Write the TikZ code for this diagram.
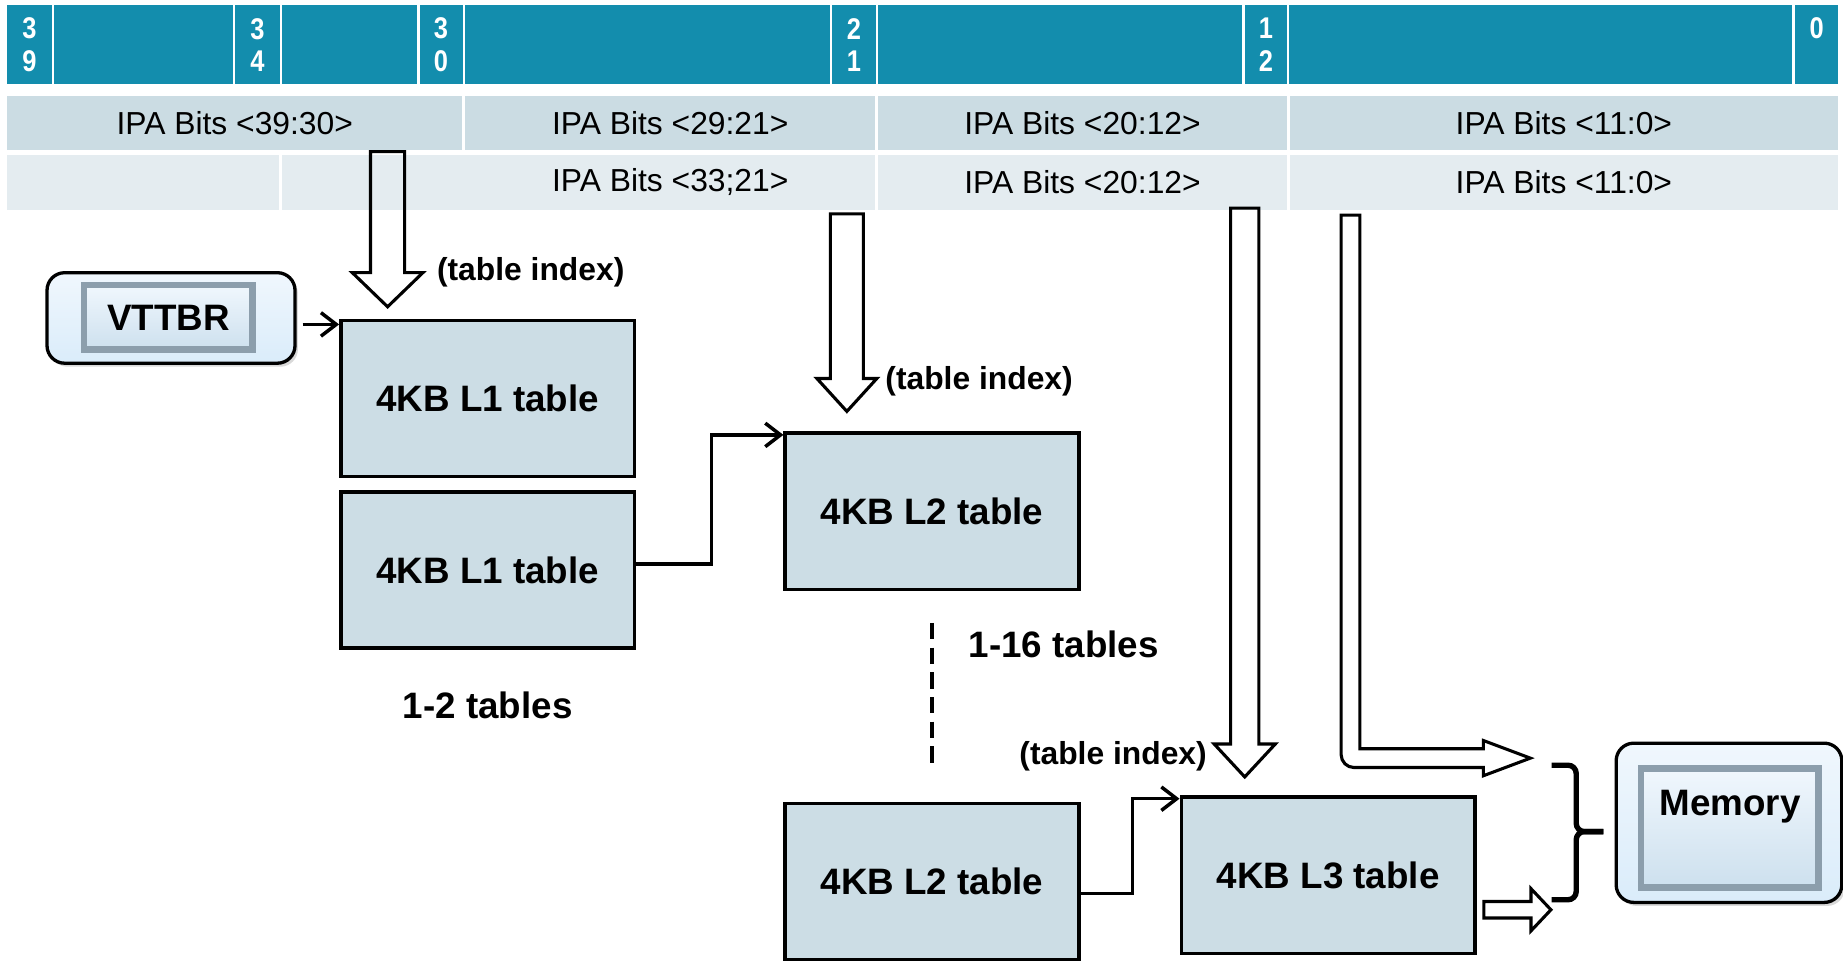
\documentclass[tikz,border=0pt]{standalone}
\usepackage{fontspec}
\setmainfont{Liberation Sans}
\newfontfamily\bitfont[FakeStretch=0.85]{Liberation Sans}
\usetikzlibrary{positioning, arrows.meta, shadows}

\definecolor{bitteal}{RGB}{19,141,173}
\definecolor{rowdark}{RGB}{203,220,227}
\definecolor{rowlight}{RGB}{228,236,240}
\definecolor{tblfill}{RGB}{204,221,229}
\definecolor{regfill}{RGB}{218,236,250}
\definecolor{regtop}{RGB}{240,247,253}
\definecolor{reginner}{RGB}{205,224,238}
\definecolor{bevel}{RGB}{140,158,172}

\begin{document}
\begin{tikzpicture}[
    % GLOBAL CFG
    >={Straight Barb[length=0.26cm, width=0.40cm]},
    % Styles
    bitcell/.style={
        rectangle,
        fill=bitteal,
        draw=white,
        line width=0.04cm,
        minimum height=1.38cm,
        inner sep=0pt,
        text=white,
        align=center,
        font=\bitfont\bfseries\fontsize{14.5}{15.6}\selectfont
    },
    rowtext/.style={
        font=\fontsize{15.4}{18}\selectfont
    },
    rowcell/.style={
        rowtext,
        rectangle,
        draw=white,
        line width=0.05cm,
        minimum height=0.98cm,
        inner sep=0pt
    },
    tbl/.style={
        rectangle,
        draw,
        fill=tblfill,
        line width=1.7pt,
        minimum width=5cm,
        minimum height=2.66cm,
        font=\fontsize{17.8}{20}\selectfont\bfseries
    },
    reg/.style={
        rectangle,
        rounded corners=0.3cm,
        draw,
        line width=1.6pt,
        top color=regtop,
        bottom color=regfill,
        drop shadow={shadow xshift=0.05cm, shadow yshift=-0.06cm, opacity=0.3}
    },
    regin/.style={
        rectangle,
        draw=bevel,
        line width=0.11cm,
        top color=regtop,
        bottom color=reginner,
        font=\fontsize{17.8}{20}\selectfont\bfseries
    },
    regtext/.style={
        font=\fontsize{17.8}{20}\selectfont\bfseries
    },
    idxlabel/.style={
        font=\fontsize{15.4}{18}\selectfont\bfseries
    },
    countlabel/.style={
        font=\fontsize{17.8}{20}\selectfont\bfseries
    },
    link/.style={
        ->,
        line width=1.7pt
    },
    blockarrow/.style={
        line width=1.5pt,
        line join=miter
    },
    bracket/.style={
        line width=2.6pt,
        rounded corners=0.14cm
    },
    dashline/.style={
        line width=0.08cm,
        dash pattern=on 0.28cm off 0.14cm
    },
]

\useasboundingbox (0,0) rectangle (31.36,-16.36);

% Bit ruler on top, numbered cells named b#
    \node [bitcell, minimum width=0.80cm] (b39) at (0.50,-0.76) {3\\9};
    \node [bitcell, minimum width=3.08cm] (g1) at (2.44,-0.76) {};
    \node [bitcell, minimum width=0.80cm] (b34) at (4.38,-0.76) {3\\4};
    \node [bitcell, minimum width=2.34cm] (g2) at (5.95,-0.76) {};
    \node [bitcell, minimum width=0.77cm] (b30) at (7.505,-0.76) {3\\0};
    \node [bitcell, minimum width=6.25cm] (g3) at (11.015,-0.76) {};
    \node [bitcell, minimum width=0.78cm] (b21) at (14.53,-0.76) {2\\1};
    \node [bitcell, minimum width=6.24cm] (g4) at (18.04,-0.76) {};
    \node [bitcell, minimum width=0.76cm] (b12) at (21.54,-0.76) {1\\2};
    \node [bitcell, minimum width=8.60cm] (g5) at (26.22,-0.76) {};
    \node [bitcell, minimum width=0.78cm] (b0) at (30.91,-0.76) {0\\\phantom{0}};

    % IPA rows named r1# and r2#
    \node [rowcell, fill=rowdark, minimum width=7.79cm] (r1a) at (3.995,-2.09) {IPA Bits <39:30>};
    \node [rowcell, fill=rowdark, minimum width=7.03cm] (r1b) at (11.405,-2.09) {IPA Bits <29:21>};
    \node [rowcell, fill=rowdark, minimum width=7.00cm] (r1c) at (18.42,-2.09) {IPA Bits <20:12>};
    \node [rowcell, fill=rowdark, minimum width=9.38cm] (r1d) at (26.61,-2.09) {IPA Bits <11:0>};

    \node [rowcell, fill=rowlight, minimum width=4.68cm] (r2a) at (2.44,-3.10) {};
    \node [rowcell, fill=rowlight, minimum width=10.14cm] (r2b) at (9.85,-3.10) {};
    \node [rowcell, fill=rowlight, minimum width=7.00cm] (r2c) at (18.42,-3.10) {IPA Bits <20:12>};
    \node [rowcell, fill=rowlight, minimum width=9.38cm] (r2d) at (26.61,-3.10) {IPA Bits <11:0>};
    \node [rowtext] (r2btxt) at (r1b |- r2b) {IPA Bits <33;21>};

% Registers and tables
    \node [reg, minimum width=4.22cm, minimum height=1.54cm] (vttbr) at (2.91,-5.41) {};
    \node [regin, minimum width=2.87cm, minimum height=1.10cm] (vttbrin) at (2.865,-5.40) {VTTBR};

    \node [tbl] (l1a) at (8.30,-6.78) {4KB L1 table};
    \node [tbl] (l1b) at (8.30,-9.70) {4KB L1 table};
    \node [tbl] (l2a) at (15.86,-8.70) {4KB L2 table};
    \node [tbl] (l2b) at (15.86,-15.00) {4KB L2 table};
    \node [tbl] (l3) at (22.60,-14.89) {4KB L3 table};

    \node [reg, minimum width=3.84cm, minimum height=2.71cm] (mem) at (29.42,-14.00) {};
    \node [regin, minimum width=3.02cm, minimum height=2.02cm] (memin) at (29.43,-14.09) {};
    \node [regtext] (memtxt) at (29.44,-13.72) {Memory};

    % Labels
    \node [idxlabel] (idx1) at (9.03,-4.64) {(table index)};
    \node [idxlabel] (idx2) at (16.66,-6.48) {(table index)};
    \node [idxlabel] (idx3) at (18.94,-12.86) {(table index)};
    \node [countlabel] (cnt1) at (8.30,-12.00) {1-2 tables};
    \node [countlabel] (cnt2) at (18.10,-10.96) {1-16 tables};

% Connections
    \coordinate (l1in) at ([yshift=-0.1cm]l1a.north west);
    \coordinate (l2in) at ([yshift=-0.06cm]l2a.north west);
    \coordinate (l3in) at ([yshift=-0.06cm]l3.north west);

    \draw [link] (l1in -| vttbr.east)++(0.1,0) -- (l1in);
    \draw [link] ([yshift=0.1cm]l1b.east) -- ++(1.28,0) |- (l2in);
    \draw [link] ([yshift=-0.2cm]l2b.east) -- ++(0.88,0) |- (l3in);

    \draw [dashline] ([yshift=-0.54cm]l2a.south) -- ([yshift=0.54cm]l2b.north);

    % Hollow index arrows named i#
    \coordinate (ia) at (6.595,-2.58);
    \coordinate (ib) at (14.41,-3.64);
    \coordinate (ic) at (21.18,-3.54);
    \coordinate (id) at (22.98,-3.66);
    \coordinate (ie) at ([xshift=0.12cm, yshift=-0.59cm]l3.east);

    \draw [blockarrow] (ia) ++(-0.29,0) -- ++(0,-2.06) -- ++(-0.31,0) -- ++(0.60,-0.58)
        -- ++(0.60,0.58) -- ++(-0.31,0) -- ++(0,2.06) -- cycle;
    \draw [blockarrow] (ib) ++(-0.28,0) -- ++(0,-2.80) -- ++(-0.23,0) -- ++(0.51,-0.56)
        -- ++(0.51,0.56) -- ++(-0.23,0) -- ++(0,2.80) -- cycle;
    \draw [blockarrow] (ic) ++(-0.24,0) -- ++(0,-9.12) -- ++(-0.28,0) -- ++(0.52,-0.56)
        -- ++(0.52,0.56) -- ++(-0.28,0) -- ++(0,9.12) -- cycle;
    \draw [blockarrow] (id) ++(-0.16,0) -- ++(0,-9.18) arc[start angle=180, end angle=270, radius=0.22]
        -- ++(2.20,0) -- ++(0,-0.14) -- ++(0.80,0.30) -- ++(-0.80,0.30) -- ++(0,-0.14)
        -- ++(-2.10,0) -- ++(0,9.08) -- cycle;
    \draw [blockarrow] (ie) ++(0,0.14) -- ++(0.80,0) -- ++(0,0.22) -- ++(0.34,-0.36)
        -- ++(-0.34,-0.36) -- ++(0,0.22) -- ++(-0.80,0) -- cycle;

    % Bracket to memory
    \draw [bracket] (26.40,-13.02) -- (26.82,-13.02) -- (26.82,-14.15) -- (27.28,-14.15);
    \draw [bracket] (27.28,-14.15) -- (26.82,-14.15) -- (26.82,-15.31) -- (26.40,-15.31);

\end{tikzpicture}
\end{document}
